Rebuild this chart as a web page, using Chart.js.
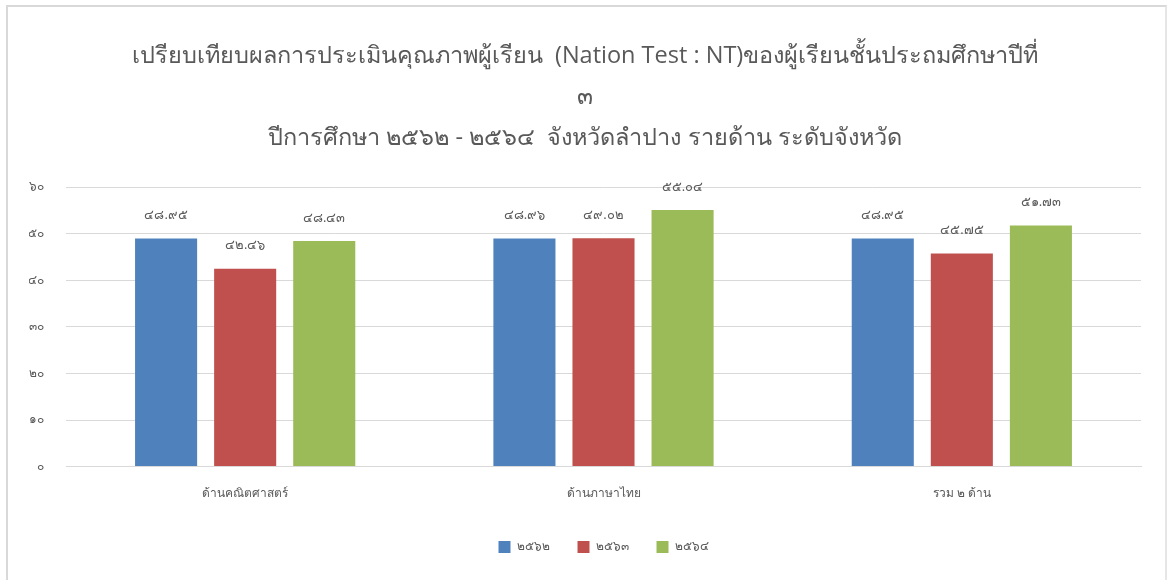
<!DOCTYPE html>
<html>
<head>
<meta charset="utf-8">
<script src="https://cdn.jsdelivr.net/npm/chart.js@4"></script>
<style>
    html, body { margin: 0; padding: 0; background: #fff; }
    #frame {
        position: absolute; left: 6px; top: 5px; width: 1161px; height: 580px;
        border-left: 2px solid #d9d9d9; border-top: 2px solid #d9d9d9; border-right: 2px solid #e6e6e6;
        box-sizing: border-box;
    }
    #wrap { position: absolute; left: 0; top: 0; width: 1169px; height: 580px; }
</style>
</head>
<body>
<div id="frame"></div>
<div id="wrap"><canvas id="ntChart"></canvas></div>
<script>
// NT results, Lampang province, by subject
const categories = ['ด้านคณิตศาสตร์', 'ด้านภาษาไทย', 'รวม ๒ ด้าน'];
const years = ['๒๕๖๒', '๒๕๖๓', '๒๕๖๔'];
const scores2562 = [48.95, 48.96, 48.95];
const scores2563 = [42.46, 49.02, 45.75];
const scores2564 = [48.43, 55.04, 51.73];
const yTicks = [0, 10, 20, 30, 40, 50, 60];

const titleLines = [
    'เปรียบเทียบผลการประเมินคุณภาพผู้เรียน  (Nation Test : NT)ของผู้เรียนชั้นประถมศึกษาปีที่',
    '๓',
    'ปีการศึกษา ๒๕๖๒ - ๒๕๖๔  จังหวัดลำปาง รายด้าน ระดับจังหวัด'
];

const barColors = ['#4f81bd', '#c0504d', '#9bbb59'];
const textColor = '#595959';
const fontFamily = "'Open Sans', 'Noto Sans', sans-serif";

/**
 * Turn arabic digits into thai digits
 */
function thaiDigits(str) {
    const digits = ['๐', '๑', '๒', '๓', '๔', '๕', '๖', '๗', '๘', '๙'];
    return String(str).replace(/[0-9]/g, d => digits[+d]);
}

// Value labels above every bar
const valueLabels = {
    id: 'valueLabels',
    afterDatasetsDraw(chart) {
        const ctx = chart.ctx;
        ctx.save();
        ctx.font = '13px ' + fontFamily;
        ctx.fillStyle = textColor;
        ctx.textAlign = 'center';
        ctx.textBaseline = 'middle';
        chart.data.datasets.forEach((ds, i) => {
            const meta = chart.getDatasetMeta(i);
            meta.data.forEach((bar, j) => {
                ctx.fillText(thaiDigits(ds.data[j].toFixed(2)), bar.x, bar.y - 23);
            });
        });
        ctx.restore();
    }
};

const seriesData = [scores2562, scores2563, scores2564];

new Chart(document.getElementById('ntChart'), {
    type: 'bar',
    data: {
        labels: categories,
        datasets: years.map((y, i) => ({
            label: y,
            data: seriesData[i],
            backgroundColor: barColors[i],
            categoryPercentage: 0.662,
            barPercentage: 0.785
        }))
    },
    options: {
        responsive: true,
        maintainAspectRatio: false,
        animation: false,
        layout: {
            padding: { left: 29, right: 28, top: 24, bottom: 17 }
        },
        plugins: {
            title: {
                display: true,
                text: titleLines,
                color: textColor,
                font: { family: fontFamily, size: 23.5, weight: 'normal', lineHeight: 41 / 23.5 },
                padding: { top: 12, bottom: 28 }
            },
            legend: {
                display: true,
                position: 'bottom',
                fullSize: false,
                labels: {
                    color: textColor,
                    font: { family: fontFamily, size: 12 },
                    boxWidth: 12,
                    boxHeight: 12,
                    padding: 28
                }
            },
            tooltip: { enabled: false }
        },
        scales: {
            x: {
                grid: { display: false },
                border: { color: '#d9d9d9' },
                ticks: {
                    color: textColor,
                    font: { family: fontFamily, size: 12 },
                    padding: 12
                }
            },
            y: {
                min: 0,
                max: 60,
                afterBuildTicks: axis => { axis.ticks = yTicks.map(v => ({ value: v })); },
                afterFit: axis => { axis.width = 37; },
                grid: { color: '#d9d9d9', drawTicks: false },
                border: { display: false },
                ticks: {
                    color: textColor,
                    font: { family: fontFamily, size: 12 },
                    padding: 22,
                    callback: v => thaiDigits(v)
                }
            }
        }
    },
    plugins: [valueLabels]
});
</script>
</body>
</html>
